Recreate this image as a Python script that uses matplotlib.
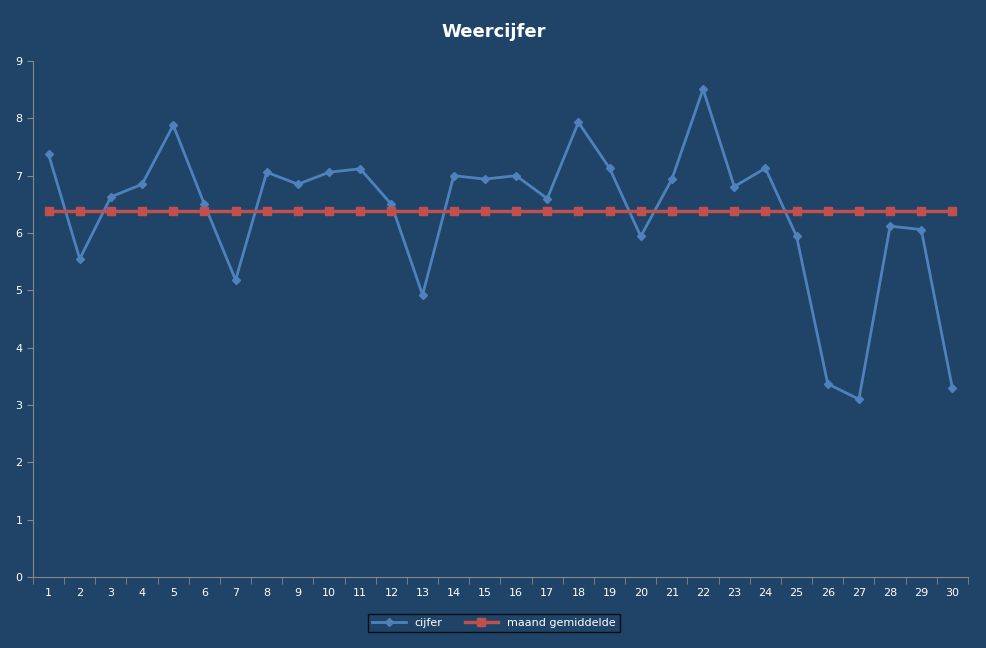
import matplotlib
matplotlib.use("Agg")
import matplotlib.pyplot as plt
import numpy as np

days = list(range(1, 31))
cijfer = [7.37, 5.55, 6.63, 6.85, 7.88, 6.50, 5.18, 7.06, 6.85, 7.06, 7.12, 6.50, 4.92, 7.00, 6.94,
          7.00, 6.60, 7.93, 7.13, 5.94, 6.94, 8.51, 6.81, 7.13, 5.94, 3.37, 3.10, 6.12, 6.06, 3.29]
gemiddelde = [6.39] * 30

bg = "#1F4467"
fig = plt.figure(figsize=(9.87, 6.48), dpi=100, facecolor=bg)
ax = fig.add_axes([33/987, 1-577/648, (968-33)/987, (577-61)/648], facecolor=bg)
ax.plot(days, cijfer, color="#4F81BD", lw=2.0, marker="D", ms=4, label="cijfer")
ax.plot(days, gemiddelde, color="#C0504D", lw=2.5, marker="s", ms=5.5, label="maand gemiddelde")
ax.set_xlim(0.5, 30.5)
ax.set_ylim(0, 9)
ax.set_yticks(range(0, 10))
ax.set_xticks(days)
ax.set_xticks(np.arange(0.5, 31, 1), minor=True)
ax.tick_params(axis="x", which="major", length=0, colors="white", labelsize=8, pad=8)
ax.tick_params(axis="x", which="minor", length=5, color="#888888")
ax.tick_params(axis="y", length=4, color="#888888", colors="white", labelsize=8)
for s in ["top", "right"]:
    ax.spines[s].set_visible(False)
for s in ["left", "bottom"]:
    ax.spines[s].set_color("#888888")
fig.text(0.5, 1-32/648, "Weercijfer", ha="center", va="center", color="white",
         fontsize=13, fontweight="bold")
leg = fig.legend(loc="center", bbox_to_anchor=(494/987, 1-623/648), ncol=2, frameon=True,
                 fontsize=8, facecolor=bg, edgecolor="black", labelcolor="white",
                 fancybox=False, handlelength=3, borderpad=0.4)
fig.savefig("out.png", dpi=100, facecolor=bg)
